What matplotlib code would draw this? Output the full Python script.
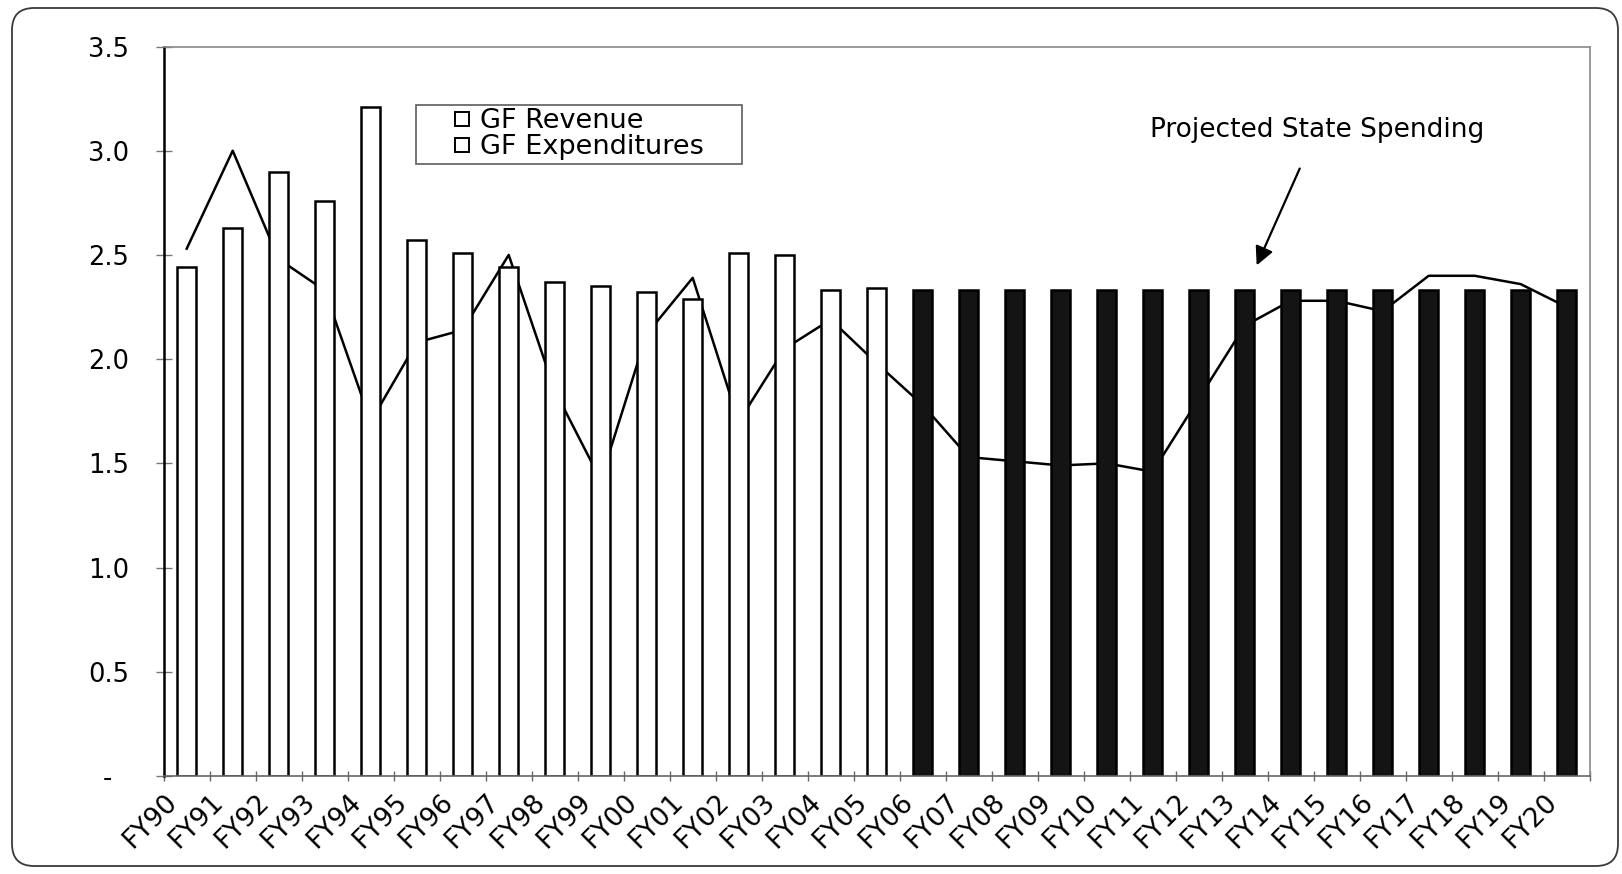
import matplotlib
matplotlib.use("Agg")
import matplotlib.pyplot as plt
from matplotlib.lines import Line2D
from matplotlib.patches import FancyBboxPatch
import numpy as np

categories = ["FY90", "FY91", "FY92", "FY93", "FY94", "FY95", "FY96", "FY97",
              "FY98", "FY99", "FY00", "FY01", "FY02", "FY03", "FY04", "FY05",
              "FY06", "FY07", "FY08", "FY09", "FY10", "FY11", "FY12", "FY13",
              "FY14", "FY15", "FY16", "FY17", "FY18", "FY19", "FY20"]

# GF Expenditures (bars)
expenditures = [2.44, 2.63, 2.90, 2.76, 3.21, 2.57, 2.51, 2.44,
                2.37, 2.35, 2.32, 2.29, 2.51, 2.50, 2.33, 2.34,
                2.33, 2.33, 2.33, 2.33, 2.33, 2.33, 2.33, 2.33,
                2.33, 2.33, 2.33, 2.33, 2.33, 2.33, 2.33]

# GF Revenue (line)
revenue = [2.53, 3.00, 2.48, 2.33, 1.70, 2.08, 2.14, 2.50,
           1.85, 1.42, 2.12, 2.39, 1.70, 2.05, 2.19, 1.98,
           1.78, 1.53, 1.51, 1.49, 1.50, 1.46, 1.81, 2.16,
           2.28, 2.28, 2.23, 2.40, 2.40, 2.36, 2.25]

first_projected = "FY06"
y_ticks = [0, 0.5, 1.0, 1.5, 2.0, 2.5, 3.0, 3.5]
y_tick_labels = ["-  ", "0.5", "1.0", "1.5", "2.0", "2.5", "3.0", "3.5"]

plt.rcParams['font.family'] = ['DejaVu Sans']

W, H = 1622, 874
fig = plt.figure(figsize=(W / 100, H / 100), dpi=100)
fig.patch.set_facecolor('white')

# chart-area rounded border
border = FancyBboxPatch((0.12, 0.08), 16.06, 8.58,
                        boxstyle="round,pad=0,rounding_size=0.22",
                        transform=fig.dpi_scale_trans, facecolor='none',
                        edgecolor='#3a3a3a', linewidth=1.3)
fig.add_artist(border)

left_px, right_px, top_px, bottom_px = 163.7, 1589.7, 46.5, 776
ax = fig.add_axes([left_px / W, 1 - bottom_px / H,
                   (right_px - left_px) / W, (bottom_px - top_px) / H])
ax.set_facecolor('none')

x = np.arange(len(categories))
proj_idx = categories.index(first_projected)
face = ['white' if i < proj_idx else '#141414' for i in x]

ax.plot(x, revenue, color='black', linewidth=1.8, zorder=1.5)
ax.bar(x, expenditures, width=0.41, color=face, edgecolor='black',
       linewidth=1.8, zorder=2)

ax.set_xlim(-0.5, len(categories) - 0.5)
ax.set_ylim(0, 3.5)

ax.set_yticks(y_ticks)
ax.set_yticklabels(y_tick_labels, fontsize=18.5)
ax.tick_params(axis='y', direction='inout', length=12, width=1,
               color='#777777', pad=19)

bounds = np.arange(-0.5, len(categories) + 0.5, 1.0)
ax.set_xticks(bounds)
ax.set_xticklabels(categories + [""], fontsize=19, rotation=45,
                   ha='right', va='top', rotation_mode='anchor')
ax.tick_params(axis='x', direction='inout', length=7, width=1,
               color='#666666', pad=6)

for s in ['top', 'right']:
    ax.spines[s].set_color('#8a8a8a')
    ax.spines[s].set_linewidth(1.2)
ax.spines['bottom'].set_color('#666666')
ax.spines['bottom'].set_linewidth(1.2)
ax.spines['left'].set_color('black')
ax.spines['left'].set_linewidth(1.8)

handles = [Line2D([], [], linestyle='none', marker='s', markersize=10,
                  markerfacecolor='white', markeredgecolor='black',
                  markeredgewidth=1.4),
           Line2D([], [], linestyle='none', marker='s', markersize=10,
                  markerfacecolor='white', markeredgecolor='black',
                  markeredgewidth=1.4)]
leg = ax.legend(handles, ["GF Revenue", "GF Expenditures    "],
                loc='upper left', bbox_to_anchor=(0.1769, 0.9198),
                borderaxespad=0, fontsize=19.5, frameon=True, fancybox=False,
                borderpad=0.12, handlelength=3.15, handletextpad=-0.9,
                labelspacing=0.0)
leg.get_frame().set_edgecolor('#333333')
leg.get_frame().set_linewidth(1.2)

ax.annotate("Projected State Spending", xy=(23.26, 2.45), xytext=(24.57, 3.10),
            fontsize=19, ha='center', va='center',
            arrowprops=dict(arrowstyle='-|>', color='black', lw=1.6,
                            mutation_scale=28, shrinkA=18, shrinkB=0))

fig.savefig("out.png", dpi=100)
